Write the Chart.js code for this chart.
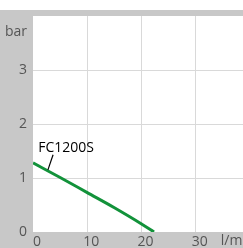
<!DOCTYPE html>
<html>
<head>
<meta charset="utf-8">
<script src="https://cdn.jsdelivr.net/npm/chart.js@4"></script>
<style>
html, body { margin: 0; padding: 0; background: #fff; }
#wrap { width: 243px; height: 248px; }
</style>
</head>
<body>
<div id="wrap"><canvas id="pumpChart" width="243" height="248"></canvas></div>
<script>
// flow (l/min) vs pressure (bar)
const flow = [0, 5, 10, 15, 20, 22.3];
const pressure = [1.28, 1.01, 0.73, 0.45, 0.15, 0];
const seriesName = 'FC1200S';
const xTicks = [0, 10, 20, 30];
const yTicks = [0, 1, 2, 3];
const xUnit = 'l/min';
const yUnit = 'bar';

const bgPlugin = {
  id: 'bg',
  beforeDraw(chart) {
    const c = chart.ctx, a = chart.chartArea;
    c.save();
    c.fillStyle = '#c8c8c8';
    c.fillRect(0, 10, chart.width, chart.height - 10);
    c.fillStyle = '#ffffff';
    c.fillRect(a.left, a.top, a.right - a.left, a.bottom - a.top);
    c.restore();
  },
  afterDraw(chart) {
    const c = chart.ctx;
    const xs = chart.scales.x, ys = chart.scales.y;
    c.save();
    c.font = '14px "Open Sans"';
    c.fillStyle = '#555';
    c.textBaseline = 'middle';
    // units
    c.textAlign = 'center';
    c.fillText(yUnit, 16, 32);
    c.textAlign = 'left';
    c.fillText(xUnit, xs.getPixelForValue(34.6), ys.bottom + 9);
    // series label with leader line
    c.textAlign = 'center';
    c.fillStyle = '#000';
    c.fillText(seriesName, xs.getPixelForValue(6.1), ys.getPixelForValue(1.56));
    c.strokeStyle = '#000';
    c.lineWidth = 1.2;
    c.beginPath();
    c.moveTo(xs.getPixelForValue(3.7), ys.getPixelForValue(1.43));
    c.lineTo(xs.getPixelForValue(2.75), ys.getPixelForValue(1.15));
    c.stroke();
    c.restore();
  }
};

new Chart(document.getElementById('pumpChart'), {
  type: 'line',
  data: {
    datasets: [{
      label: seriesName,
      data: flow.map((f, i) => ({ x: f, y: pressure[i] })),
      borderColor: '#12923a',
      borderWidth: 3,
      pointRadius: 0,
      cubicInterpolationMode: 'monotone',
      fill: false
    }]
  },
  options: {
    responsive: false,
    animation: false,
    layout: { padding: { top: 16, left: 0, right: 0, bottom: 0 } },
    plugins: {
      legend: { display: false },
      tooltip: { enabled: false }
    },
    scales: {
      x: {
        type: 'linear',
        min: 0,
        max: 38.7,
        afterBuildTicks(scale) {
          scale.ticks = xTicks.map(v => ({ value: v }));
        },
        afterFit(scale) { scale.height = 16; },
        border: { display: false },
        grid: {
          color: ctx => (ctx.tick && ctx.tick.value === 0) ? 'rgba(0,0,0,0)' : '#d9d9d9',
          lineWidth: 1,
          drawTicks: false
        },
        ticks: {
          autoSkip: false,
          maxRotation: 0,
          padding: 2,
          labelOffset: 4,
          color: '#555',
          font: { family: 'Open Sans', size: 14 }
        }
      },
      y: {
        min: 0,
        max: 4,
        afterBuildTicks(scale) {
          scale.ticks = yTicks.map(v => ({ value: v }));
        },
        afterFit(scale) { scale.width = 33; },
        border: { display: false },
        grid: {
          color: ctx => (ctx.tick && ctx.tick.value === 0) ? 'rgba(0,0,0,0)' : '#d9d9d9',
          lineWidth: 1,
          drawTicks: false
        },
        ticks: {
          padding: 6,
          color: '#555',
          font: { family: 'Open Sans', size: 14 }
        }
      }
    }
  },
  plugins: [bgPlugin]
});
</script>
</body>
</html>
